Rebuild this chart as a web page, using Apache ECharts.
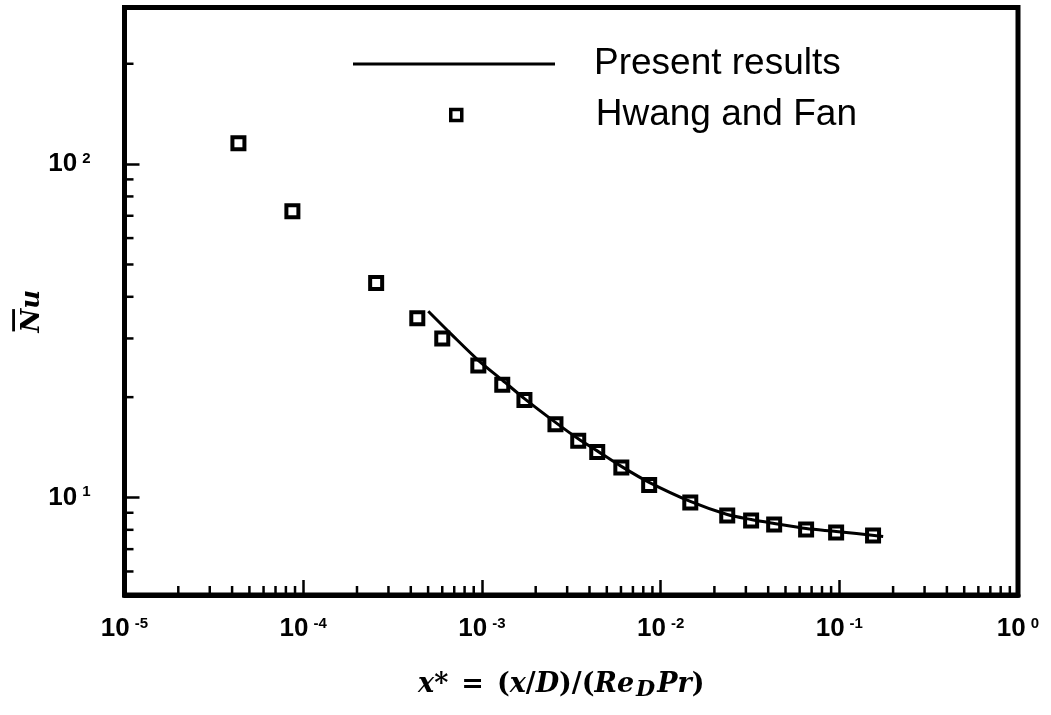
<!DOCTYPE html>
<html>
<head>
<meta charset="utf-8">
<script src="https://cdn.jsdelivr.net/npm/echarts@6/dist/echarts.min.js"></script>
<style>
html,body{margin:0;padding:0;background:#fff;}
#chart{width:1051px;height:715px;}
</style>
</head>
<body>
<div id="chart"></div>
<script>
// Hwang and Fan (squares)
const hfX = [4.34e-5, 8.7e-5, 2.56e-4, 4.35e-4, 6.0e-4, 9.55e-4, 1.30e-3, 1.73e-3, 2.58e-3, 3.46e-3, 4.42e-3, 6.03e-3, 8.63e-3, 0.01466, 0.0236, 0.0321, 0.0432, 0.0652, 0.096, 0.1545];
const hfY = [115.6, 72.2, 44.0, 34.5, 30.0, 24.9, 21.8, 19.6, 16.6, 14.8, 13.7, 12.3, 10.9, 9.66, 8.83, 8.53, 8.30, 8.02, 7.85, 7.69];
// Present results (line)
const presX = [5.01e-4, 6.82e-4, 9.55e-4, 1.30e-3, 1.73e-3, 2.58e-3, 3.46e-3, 4.42e-3, 6.03e-3, 8.63e-3, 0.01466, 0.0236, 0.0321, 0.0432, 0.0652, 0.096, 0.176];
const presY = [36.2, 30.7, 25.8, 22.5, 19.8, 16.8, 15.0, 13.8, 12.4, 11.1, 9.73, 8.89, 8.59, 8.36, 8.07, 7.91, 7.64];
// Axis ticks
const xMajor = [1e-5, 1e-4, 1e-3, 1e-2, 1e-1, 1];
const yMajor = [10, 100];
const yMinor = [6, 7, 8, 9, 20, 30, 40, 50, 60, 70, 80, 90, 200];
const xMinor = [];
[1e-5, 1e-4, 1e-3, 1e-2, 1e-1].forEach(function (d) { for (let k = 2; k <= 9; k++) xMinor.push(k * d); });
const xMin = 1e-5, xMax = 1, yMin = 5.1, yMax = 295;
const seriesNames = ['Present results', 'Hwang and Fan'];

function powLabel(v) {
  const e = Math.round(Math.log10(v));
  return '{b|10}{s|' + (e < 0 ? '-' : '') + Math.abs(e) + '}';
}
const labelRich = {
  b: {fontFamily: 'Liberation Sans', fontWeight: 'bold', fontSize: 26, lineHeight: 26, padding: [12, 0, 0, 0], verticalAlign: 'bottom', color: '#000'},
  s: {fontFamily: 'Liberation Sans', fontWeight: 'bold', fontSize: 15, lineHeight: 15, padding: [0, 0, 0, 5], verticalAlign: 'top', color: '#000'}
};
const serif = 'DejaVu Serif';
const nameRich = {
  i: {fontFamily: serif, fontStyle: 'italic', fontWeight: 'bold', fontSize: 27, lineHeight: 30, verticalAlign: 'top', color: '#000'},
  r: {fontFamily: serif, fontWeight: 'bold', fontSize: 27, lineHeight: 30, verticalAlign: 'top', color: '#000'},
  eq: {fontFamily: serif, fontWeight: 'bold', fontSize: 27, lineHeight: 30, verticalAlign: 'top', padding: [0, 13, 0, 13], color: '#000'},
  sub: {fontFamily: serif, fontStyle: 'italic', fontWeight: 'bold', fontSize: 22, lineHeight: 22, padding: [14, 2, 0, 2], verticalAlign: 'bottom', color: '#000'},
  end: {fontFamily: serif, fontWeight: 'bold', fontSize: 27, lineHeight: 30, verticalAlign: 'top', padding: [0, 20, 0, 0], color: '#000'}
};
const yNameRich = {
  o: {fontFamily: serif, fontWeight: 'bold', fontSize: 25, lineHeight: 12, padding: [0, 38, 0, 0], color: '#000'},
  n: {fontFamily: serif, fontStyle: 'italic', fontWeight: 'bold', fontSize: 26, lineHeight: 26, padding: [0, 20, 0, 0], color: '#000'}
};

function tickLine(x1, y1, x2, y2) {
  return {type: 'line', shape: {x1: x1, y1: y1, x2: x2, y2: y2}, style: {stroke: '#000', lineWidth: 2.5}};
}

const chart = echarts.init(document.getElementById('chart'), null, {renderer: 'canvas'});
chart.setOption({
  animation: false,
  backgroundColor: '#fff',
  grid: {left: 124.5, right: 33, top: 7.5, bottom: 120, show: true, borderColor: '#000', borderWidth: 5, backgroundColor: 'transparent', containLabel: false, outerBoundsMode: 'none'},
  legend: [
    {
      data: [{name: seriesNames[0], icon: 'rect'}], left: 353, top: 44, padding: 0, itemWidth: 202, itemHeight: 3,
      itemStyle: {color: '#000', borderWidth: 0},
      textStyle: {fontFamily: 'Liberation Sans', fontSize: 37, lineHeight: 40, color: '#000', padding: [0, 0, 0, 34]},
      selectedMode: false
    },
    {
      data: [seriesNames[1]], left: 449, top: 95, padding: 0, itemWidth: 11, itemHeight: 11,
      itemStyle: {color: 'rgba(255,255,255,0)', borderColor: '#000', borderWidth: 3.5},
      textStyle: {fontFamily: 'Liberation Sans', fontSize: 37, lineHeight: 40, color: '#000', padding: [0, 0, 0, 129]},
      selectedMode: false
    }
  ],
  xAxis: {
    type: 'log', logBase: 10, min: xMin, max: xMax,
    name: '{i|x}{r|*}{eq|=}{r|(}{i|x}{r|/}{i|D}{r|)/(}{i|Re}{sub|D}{i|Pr}{end|)}',
    nameLocation: 'middle', nameGap: 76, nameMoveOverlap: false,
    nameTextStyle: {rich: nameRich},
    axisLine: {lineStyle: {color: '#000', width: 5}},
    axisTick: {inside: true, length: 15, lineStyle: {color: '#000', width: 2.5}, customValues: xMajor},
    axisLabel: {customValues: xMajor, margin: 21, formatter: powLabel, rich: labelRich},
    splitLine: {show: false},
    minorTick: {show: false}
  },
  yAxis: {
    type: 'log', logBase: 10, min: yMin, max: yMax,
    name: '{o|\u2014}\n{n|Nu}',
    nameLocation: 'middle', nameGap: 79, nameRotate: 90, nameMoveOverlap: false,
    nameTextStyle: {rich: yNameRich},
    axisLine: {lineStyle: {color: '#000', width: 5}},
    axisTick: {inside: true, length: 15, lineStyle: {color: '#000', width: 2.5}, customValues: yMajor},
    axisLabel: {customValues: yMajor, margin: 34, formatter: powLabel, rich: labelRich},
    splitLine: {show: false},
    minorTick: {show: false}
  },
  series: [
    {
      name: seriesNames[0], type: 'line', symbol: 'none', smooth: 0.3,
      data: presX.map(function (x, i) { return [x, presY[i]]; }),
      lineStyle: {color: '#000', width: 3},
      itemStyle: {color: '#000'},
      z: 2
    },
    {
      name: seriesNames[1], type: 'scatter', symbol: 'rect', symbolSize: 12,
      data: hfX.map(function (x, i) { return [x, hfY[i]]; }),
      itemStyle: {color: 'rgba(255,255,255,0)', borderColor: '#000', borderWidth: 4, opacity: 1},
      z: 3
    },
    {
      name: 'xMinorTicks', type: 'custom', silent: true, clip: false,
      data: xMinor.map(function (v) { return [v, yMin]; }),
      renderItem: function (params, api) {
        const p = api.coord([api.value(0), yMin]);
        return tickLine(p[0], p[1], p[0], p[1] - 9);
      },
      z: 4
    },
    {
      name: 'yMinorTicks', type: 'custom', silent: true, clip: false,
      data: yMinor.map(function (v) { return [xMin, v]; }),
      renderItem: function (params, api) {
        const p = api.coord([xMin, api.value(1)]);
        return tickLine(p[0], p[1], p[0] + 9, p[1]);
      },
      z: 4
    }
  ]
});
</script>
</body>
</html>
